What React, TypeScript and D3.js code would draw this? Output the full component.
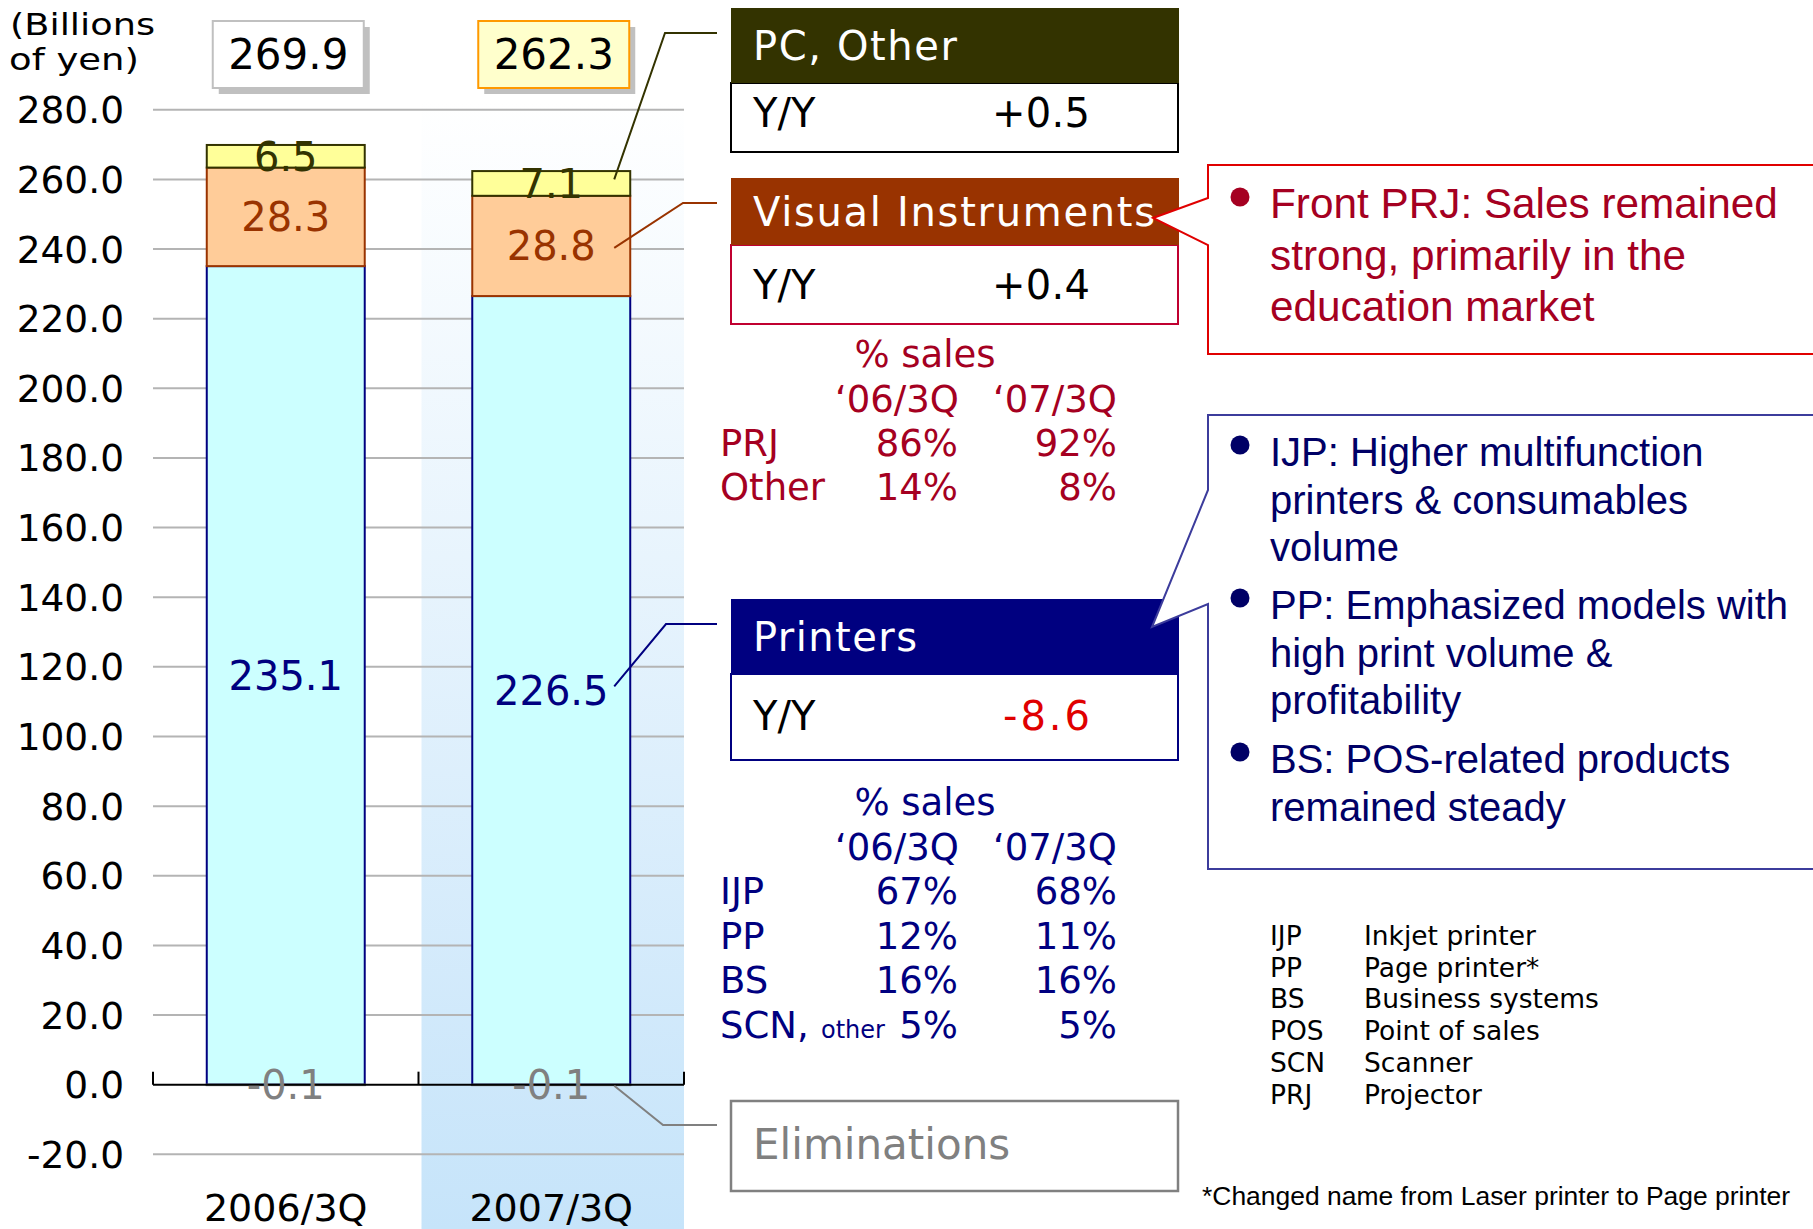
import React from "react";
import * as d3 from "d3";

// ---------- data ----------
const categories = ["2006/3Q", "2007/3Q"];
const printers = [235.1, 226.5];
const visualInstruments = [28.3, 28.8];
const pcOther = [6.5, 7.1];
const eliminations = [-0.1, -0.1];
const totals = [269.9, 262.3];
const yTicks = [-20, 0, 20, 40, 60, 80, 100, 120, 140, 160, 180, 200, 220, 240, 260, 280];

const segmentNames = ["PC, Other", "Visual Instruments", "Printers", "Eliminations"];
const yoyValues = ["+0.5", "+0.4", "-8.6"];

const shareHeaders = ["\u201806/3Q", "\u201807/3Q"];
const viRows = ["PRJ", "Other"];
const vi06 = ["86%", "14%"];
const vi07 = ["92%", "8%"];
const prRows = ["IJP", "PP", "BS", "SCN,"];
const pr06 = ["67%", "12%", "16%", "5%"];
const pr07 = ["68%", "11%", "16%", "5%"];

const redNotes = [["Front PRJ: Sales remained", "strong, primarily in the", "education market"]];
const blueNotes = [
  ["IJP: Higher multifunction", "printers & consumables", "volume"],
  ["PP: Emphasized models with", "high print volume &", "profitability"],
  ["BS: POS-related products", "remained steady"],
];
const abbrKeys = ["IJP", "PP", "BS", "POS", "SCN", "PRJ"];
const abbrDesc = ["Inkjet printer", "Page printer*", "Business systems", "Point of sales", "Scanner", "Projector"];
const footnote = "*Changed name from Laser printer to Page printer";

// ---------- styles ----------
const FONT = "'DejaVu Sans', Verdana, sans-serif";
const ARIAL = "'Liberation Sans', Arial, sans-serif";
const keys = ["printers", "visual", "pc", "elim"];
const fills: Record<string, string> = { printers: "#ccffff", visual: "#ffcc99", pc: "#ffff99", elim: "#c0c0c0" };
const strokes: Record<string, string> = { printers: "#000080", visual: "#993300", pc: "#333300", elim: "#808080" };
const labelColors: Record<string, string> = { printers: "#000080", visual: "#993300", pc: "#333300", elim: "#808080" };

const fmt = (v: number) => v.toFixed(1);

export default function App() {
  const W = 1813, H = 1229;
  const y = d3.scaleLinear().domain([-20, 280]).range([1154.3, 109.8]);
  const x = d3.scaleBand<string>().domain(categories).range([153, 684]).paddingInner(0.405).paddingOuter(0.2025);
  const bw = x.bandwidth();
  const step = x.step();

  const rows = categories.map((c, i) => ({
    cat: c,
    printers: printers[i],
    visual: visualInstruments[i],
    pc: pcOther[i],
    elim: eliminations[i],
  }));
  const series = d3.stack<any>().keys(keys).offset(d3.stackOffsetDiverging)(rows);

  const y0 = y(0);
  const bandEdges = [x.range()[0], x.range()[0] + step, x.range()[1]];
  const cx = (c: string) => (x(c) as number) + bw / 2;

  const mid = (key: string, i: number) => {
    const s = series.find((s) => s.key === key)!;
    return y((s[i][0] + s[i][1]) / 2);
  };

  // right-panel box layout
  const bx0 = 731, bx1 = 1178;
  const boxes = [
    { name: segmentNames[0], top: 8, hb: 83, bottom: 152, fill: "#333300", stroke: "#000000", yy: 127, color: "#000", tl: 204, vl: 98 },
    { name: segmentNames[1], top: 178, hb: 245, bottom: 324, fill: "#993300", stroke: "#c00030", yy: 299, color: "#000", tl: 402, vl: 98 },
    { name: segmentNames[2], top: 599, hb: 674, bottom: 760, fill: "#000080", stroke: "#000080", yy: 730, color: "#e00000", tl: 164, vl: 87 },
  ];

  const c2 = categories[1];
  const barRight = (x(c2) as number) + bw;
  const connectors = [
    { key: "pc", knee: [665, 33], color: "#333300", dy: -4 },
    { key: "visual", knee: [683, 203], color: "#993300", dy: 2 },
    { key: "printers", knee: [666, 624], color: "#000080", dy: -4 },
    { key: "elim", knee: [663, 1125], color: "#808080", dy: 1 },
  ];

  const bulletX = 1240, noteX = 1270;

  return (
    <svg width={W} height={H} style={{ position: "absolute", left: 0, top: 0, background: "#fff" }} fontFamily={FONT}>
      <defs>
        <linearGradient id="band" gradientUnits="userSpaceOnUse" x1="0" y1="100" x2="0" y2="1229">
          <stop offset="0" stopColor="#ffffff" />
          <stop offset="1" stopColor="#c6e4fa" />
        </linearGradient>
      </defs>

      {/* highlight band for the latest quarter */}
      <rect x={bandEdges[1] + 3} y={100} width={bandEdges[2] - bandEdges[1] - 3} height={H - 100} fill="url(#band)" />

      {/* gridlines */}
      {yTicks.filter((t) => t !== 0).map((t) => (
        <line key={t} x1={bandEdges[0]} x2={bandEdges[2]} y1={y(t)} y2={y(t)} stroke="#b4b4b4" strokeWidth={2} />
      ))}
      {/* tick labels */}
      {yTicks.map((t) => (
        <text key={"l" + t} x={124} y={y(t) + 13.5} textAnchor="end" fontSize={37.5} fill="#000">
          {fmt(t)}
        </text>
      ))}
      <text x={10} y={35} fontSize={31} textLength={145} lengthAdjust="spacingAndGlyphs">(Billions</text>
      <text x={9} y={70} fontSize={31} textLength={130} lengthAdjust="spacingAndGlyphs">of yen)</text>

      {/* bars */}
      {series.map((s) =>
        s.map((d, i) => {
          const top = y(Math.max(d[0], d[1]));
          const bot = y(Math.min(d[0], d[1]));
          return (
            <rect key={s.key + i} x={x(categories[i])} width={bw} y={top} height={Math.max(0.5, bot - top)}
              fill={fills[s.key]} stroke={strokes[s.key]} strokeWidth={2} />
          );
        })
      )}

      {/* axis */}
      <line x1={bandEdges[0]} x2={bandEdges[2]} y1={y0} y2={y0} stroke="#000" strokeWidth={2} />
      {bandEdges.map((e, i) => (
        <line key={"t" + i} x1={e} x2={e} y1={y0} y2={y0 - 13} stroke="#000" strokeWidth={2} />
      ))}
      {categories.map((c) => (
        <text key={c} x={cx(c)} y={1221} textAnchor="middle" fontSize={38}>{c}</text>
      ))}

      {/* segment labels */}
      {series.map((s) =>
        s.map((d, i) => (
          <text key={"v" + s.key + i} x={cx(categories[i])} y={mid(s.key, i) + 14.5} textAnchor="middle"
            fontSize={40} fill={labelColors[s.key]}>
            {fmt((s[i].data as any)[s.key])}
          </text>
        ))
      )}

      {/* total boxes */}
      {categories.map((c, i) => (
        <g key={"tot" + c}>
          <rect x={cx(c) - 73 + 6} y={21 + 6} width={151} height={67} fill="#c0c0c0" />
          <rect x={cx(c) - 73} y={21} width={151} height={67} fill={i === 1 ? "#ffffcc" : "#ffffff"}
            stroke={i === 1 ? "#ff9900" : "#c0c0c0"} strokeWidth={2} />
          <text x={cx(c) + 2.5} y={69} textAnchor="middle" fontSize={42}>{fmt(totals[i])}</text>
        </g>
      ))}

      {/* connectors */}
      {connectors.map((k) => {
        const sy = mid(k.key, 1) + k.dy;
        const sx = barRight - 16;
        return (
          <polyline key={"c" + k.key} points={`${sx},${sy} ${k.knee[0]},${k.knee[1]} 717,${k.knee[1]}`}
            fill="none" stroke={k.color} strokeWidth={2} />
        );
      })}

      {/* segment boxes */}
      {boxes.map((b, i) => (
        <g key={"box" + i}>
          <rect x={bx0} y={b.hb} width={bx1 - bx0} height={b.bottom - b.hb} fill="#fff" stroke={b.stroke} strokeWidth={2} />
          <rect x={bx0} y={b.top} width={bx1 - bx0 + 1} height={b.hb - b.top} fill={b.fill} />
          <text x={753} y={(b.top + b.hb) / 2 + 14.5} fontSize={40} fill="#fff" textLength={b.tl} lengthAdjust="spacing">{b.name}</text>
          <text x={753} y={b.yy} fontSize={40} fill="#000">Y/Y</text>
          <text x={1090} y={b.yy} fontSize={40} fill={b.color} textAnchor="end" textLength={b.vl} lengthAdjust="spacing">{yoyValues[i]}</text>
        </g>
      ))}
      <rect x={bx0} y={1101} width={bx1 - bx0} height={90} fill="#fff" stroke="#808080" strokeWidth={2.5} />
      <text x={753} y={1159} fontSize={42} fill="#808080">{segmentNames[3]}</text>

      {/* share tables */}
      <g fill="#a50021" fontSize={37}>
        <text x={925} y={367} textAnchor="middle">% sales</text>
        <text x={959} y={412} textAnchor="end">{shareHeaders[0]}</text>
        <text x={1117} y={412} textAnchor="end">{shareHeaders[1]}</text>
        {viRows.map((r, i) => (
          <g key={r}>
            <text x={720} y={456 + i * 44}>{r}</text>
            <text x={958} y={456 + i * 44} textAnchor="end">{vi06[i]}</text>
            <text x={1117} y={456 + i * 44} textAnchor="end">{vi07[i]}</text>
          </g>
        ))}
      </g>
      <g fill="#000080" fontSize={37}>
        <text x={925} y={815} textAnchor="middle">% sales</text>
        <text x={959} y={860} textAnchor="end">{shareHeaders[0]}</text>
        <text x={1117} y={860} textAnchor="end">{shareHeaders[1]}</text>
        {prRows.map((r, i) => (
          <g key={r}>
            <text x={720} y={904 + i * 44.5}>{r}</text>
            <text x={958} y={904 + i * 44.5} textAnchor="end">{pr06[i]}</text>
            <text x={1117} y={904 + i * 44.5} textAnchor="end">{pr07[i]}</text>
          </g>
        ))}
        <text x={821} y={904 + 3 * 44.5} fontSize={24}>other</text>
      </g>

      {/* red callout */}
      <path d="M1208,165 H1830 V354 H1208 V245 L1153,218 L1208,198 Z" fill="#fff" stroke="#e00000" strokeWidth={2} />
      {redNotes.map((lines, bi) => (
        <g key={"rn" + bi} fill="#a50021" fontFamily={ARIAL} fontSize={42.3}>
          <circle cx={bulletX} cy={197} r={9.5} />
          {lines.map((l, li) => (
            <text key={li} x={noteX} y={218 + li * 51.5}>{l}</text>
          ))}
        </g>
      ))}

      {/* blue callout */}
      <path d="M1208,415 H1830 V869 H1208 V604 L1152,627 L1208,490 Z" fill="#fff" stroke="#3c3c9c" strokeWidth={2} />
      {(() => {
        const starts = [466, 619, 773];
        return blueNotes.map((lines, bi) => (
          <g key={"bn" + bi} fill="#000066" fontFamily={ARIAL} fontSize={40}>
            <circle cx={bulletX} cy={starts[bi] - 21} r={9.5} />
            {lines.map((l, li) => (
              <text key={li} x={noteX} y={starts[bi] + li * 47.5}>{l}</text>
            ))}
          </g>
        ));
      })()}

      {/* abbreviations */}
      {abbrKeys.map((k, i) => (
        <g key={"ab" + k} fontSize={26.5} fill="#000">
          <text x={1270} y={945 + i * 31.7}>{k}</text>
          <text x={1364} y={945 + i * 31.7}>{abbrDesc[i]}</text>
        </g>
      ))}
      <text x={1202} y={1205} fontFamily={ARIAL} fontSize={25} textLength={588} lengthAdjust="spacingAndGlyphs">{footnote}</text>
    </svg>
  );
}
